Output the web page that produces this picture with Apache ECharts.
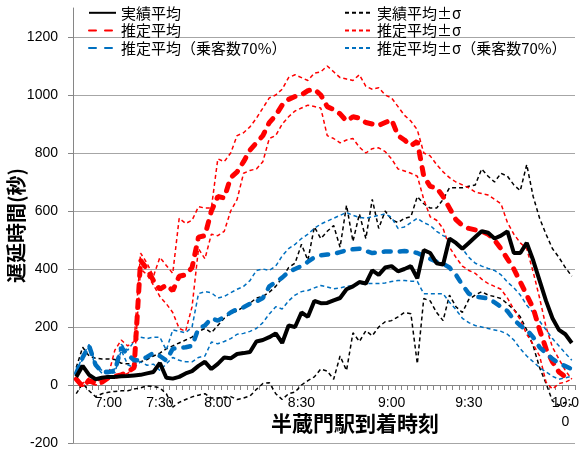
<!DOCTYPE html>
<html>
<head>
<meta charset="utf-8">
<script src="https://cdn.jsdelivr.net/npm/echarts@6/dist/echarts.min.js"></script>
<style>html,body{margin:0;padding:0;background:#fff}#c{width:587px;height:450px}</style>
</head>
<body>
<div id="c"></div>
<script>
const categories = [
  '', '', '', '', '', '7:00', '', '', '', '',
  '', '', '', '7:30', '', '', '', '', '', '',
  '', '', '8:00', '', '', '', '', '', '', '',
  '', '', '', '', '', '8:30', '', '', '', '',
  '', '', '', '', '', '', '', '', '', '9:00',
  '', '', '', '', '', '', '', '', '', '',
  '', '9:30', '', '', '', '', '', '', '', '',
  '', '', '', '', '', '', '10:0\n0', ''
];
const actualMean = [
  28, 66, 35, 20, 25, 28, 28, 30, 31, 33,
  35, 40, 45, 76, 25, 22, 28, 40, 48, 66,
  80, 55, 73, 95, 92, 107, 110, 114, 150, 155,
  165, 178, 145, 205, 200, 250, 235, 290, 282, 283,
  292, 300, 330, 340, 355, 350, 395, 380, 405, 410,
  392, 400, 410, 368, 465, 455, 420, 415, 505, 490,
  470, 490, 510, 530, 525, 505, 515, 530, 455, 455,
  490, 430, 360, 290, 230, 190, 175, 145
];
const actualUpper = [
  60, 130, 100, 92, 90, 90, 88, 75, 73, 75,
  80, 88, 100, 110, 125, 135, 145, 155, 165, 185,
  195, 180, 205, 230, 248, 255, 270, 282, 300, 305,
  320, 340, 370, 405, 420, 485, 430, 545, 505, 530,
  550, 475, 620, 495, 590, 505, 640, 540, 600, 570,
  560, 575, 580, 650, 625, 610, 610, 640, 680, 680,
  680, 685, 690, 745, 720, 700, 730, 720, 690, 670,
  760, 650, 575, 520, 470, 440, 405, 375
];
const actualLower = [
  -30, 5, -20, -40, -30, -25, -22, -20, -20, -14,
  -10, -3, -5, -10, -30, -76, -60, -50, -41, -35,
  -30, -45, -45, -42, -40, -50, -45, -38, -15, 5,
  8, -30, -50, -30, -24, 0, 15, 28, 55, 48,
  20, 100, 50, 180, 150, 187, 170, 200, 218, 222,
  235, 250, 246, 73, 298, 290, 250, 222, 310, 270,
  250, 295, 310, 322, 310, 305, 298, 280, 260, 235,
  190, 135, 60, 5, -55, -70, -60, -70
];
const estMean = [
  20, -5, 15, 5, 10, 25, 30, 35, 45, 60,
  430, 400, 360, 330, 345, 325, 375, 380, 405, 510,
  515, 600, 650, 645, 715, 735, 770, 810, 835, 860,
  905, 930, 965, 985, 995, 1000, 1015, 1020, 1000, 960,
  950, 935, 910, 925, 920, 905, 900, 895, 905, 915,
  860, 845, 825, 840, 720, 685, 680, 650, 610, 570,
  550, 540, 535, 530, 520, 500, 470, 435, 400, 355,
  310, 265, 190, 125, 80, 45, 28, 20
];
const estUpper = [
  25, 5, 25, 10, 20, 35, 120, 155, 135, 150,
  455, 420, 375, 440, 412, 385, 575, 557, 568, 615,
  610, 610, 780, 770, 800, 860, 870, 890, 920, 955,
  990, 1000, 1020, 1060, 1070, 1060, 1050, 1075, 1080, 1100,
  1080, 1060, 1055, 1050, 1070, 1030, 1020, 1025, 1000, 990,
  960, 930, 910, 880, 800, 790, 760, 735, 715, 700,
  690, 680, 665, 660, 655, 640, 625, 560, 520, 490,
  470, 390, 300, 200, 130, 90, 50, 20
];
const estLower = [
  15, -5, 10, 0, 5, 20, 25, 30, 40, 60,
  400, 380, 345, 305, 280, 250, 195, 185, 270, 470,
  435, 520, 515, 530, 600, 640, 730, 740, 745, 770,
  850, 860, 900, 925, 945, 955, 965, 960, 955, 860,
  850, 835, 845, 850, 820, 800, 815, 818, 805, 780,
  745, 738, 730, 720, 640, 580, 568, 540, 475, 440,
  410, 395, 385, 365, 350, 340, 330, 300, 260, 225,
  175, 140, 100, 10, -14, 5, 10, 20
];
const est70Mean = [
  40, 95, 135, 70, 45, 45, 48, 130, 105, 85,
  85, 97, 110, 100, 85, 125, 128, 130, 135, 195,
  205, 230, 222, 235, 250, 262, 268, 280, 288, 300,
  340, 355, 370, 390, 400, 410, 425, 440, 447, 450,
  452, 458, 465, 468, 470, 462, 455, 458, 460, 460,
  460, 462, 460, 455, 445, 435, 425, 418, 405, 380,
  345, 315, 305, 302, 298, 285, 270, 255, 225, 205,
  190, 165, 130, 110, 90, 75, 65, 55
];
const est70Upper = [
  45, 100, 140, 75, 50, 50, 55, 140, 120, 150,
  165, 160, 165, 165, 120, 190, 185, 180, 200, 315,
  322, 318, 300, 305, 318, 330, 340, 360, 395, 400,
  395, 410, 445, 470, 485, 505, 520, 540, 555, 565,
  575, 585, 595, 585, 578, 575, 580, 585, 590, 578,
  540, 545, 560, 575, 560, 550, 530, 515, 505, 490,
  470, 440, 420, 410, 402, 395, 380, 355, 335, 310,
  275, 250, 220, 190, 160, 135, 110, 85
];
const est70Lower = [
  35, 90, 130, 65, 40, 40, 42, 120, 70, 60,
  80, 68, 72, 50, 73, 95, 85, 80, 80, 95,
  100, 148, 142, 150, 160, 175, 178, 185, 195, 215,
  245, 270, 262, 290, 310, 322, 326, 335, 343, 338,
  332, 335, 340, 343, 348, 350, 350, 350, 352, 357,
  360, 360, 358, 357, 315, 315, 315, 315, 285, 260,
  230, 215, 205, 200, 195, 190, 185, 175, 155, 125,
  100, 80, 60, 45, 30, 20, 25, 30
];
const yTicks = { min: -200, max: 1300, step: 200 };

const CJK = "'Noto Sans CJK JP', sans-serif";
const LAT = "'Liberation Sans', 'Noto Sans CJK JP', sans-serif";
const HIDDEN = 'rgba(0,0,0,0)';

function thin(name, data, color) {
  return { name, type: 'line', data, symbol: 'none', z: 2,
    lineStyle: { color, width: 1.5, type: [4, 3] }, itemStyle: { color: HIDDEN, opacity: 0 } };
}
function thick(name, data, color, width) {
  return { name, type: 'line', data, symbol: 'none', z: 3,
    lineStyle: { color, width, type: [7, 9], cap: 'round' }, itemStyle: { color: HIDDEN, opacity: 0 } };
}

const legendBase = { orient: 'vertical', top: 4, padding: 0, itemGap: 0, itemWidth: 27, itemHeight: 22,
  itemStyle: { opacity: 0 },
  textStyle: { fontSize: 15, color: '#000', fontFamily: CJK } };

const GRID_TOP = 8, GRID_BOTTOM = 7, H = 450;
// pixel distance from the bottom edge of the plot up to the value 0 line
const zeroOffset = (H - GRID_TOP - GRID_BOTTOM) * (0 - yTicks.min) / (yTicks.max - yTicks.min);

const chart = echarts.init(document.getElementById('c'), null, { renderer: 'canvas' });
chart.setOption({
  animation: false,
  backgroundColor: '#fff',
  grid: { left: 73, right: 12, top: GRID_TOP, bottom: GRID_BOTTOM, containLabel: false, outerBoundsMode: 'none' },
  legend: [
    Object.assign({ data: ['実績平均', '推定平均', '推定平均（乗客数70%）'], left: 88 }, legendBase),
    Object.assign({ data: ['実績平均±σ', '推定平均±σ', '推定平均±σ（乗客数70%）'], left: 344 }, legendBase)
  ],
  xAxis: {
    type: 'category', data: categories, boundaryGap: true, position: 'bottom',
    offset: -zeroOffset,
    axisLine: { onZero: false, lineStyle: { color: '#868686', width: 1 } },
    axisTick: { show: true, interval: 0, length: 5, lineStyle: { color: '#868686' } },
    axisLabel: { interval: 0, margin: 9, fontSize: 14, lineHeight: 19, color: '#000', fontFamily: LAT },
    splitLine: { show: false },
    name: '半蔵門駅到着時刻', nameLocation: 'middle', nameGap: 28, nameMoveOverlap: false,
    nameTextStyle: { fontSize: 21, fontWeight: 'bold', color: '#000', fontFamily: CJK, padding: [0, 0, 0, 62] }
  },
  yAxis: {
    type: 'value', min: yTicks.min, max: yTicks.max, interval: yTicks.step,
    axisLine: { show: true, onZero: false, lineStyle: { color: '#868686' } },
    axisTick: { show: true, length: 5, lineStyle: { color: '#868686' } },
    axisLabel: { showMaxLabel: false, fontSize: 14, margin: 15, color: '#000', fontFamily: LAT,
      formatter: v => String(v) },
    splitLine: { show: true, showMaxLine: false, lineStyle: { color: '#a6a6a6', width: 1 } },
    name: '遅延時間(秒)', nameLocation: 'middle', nameGap: 47, nameRotate: 90, nameMoveOverlap: false,
    nameTextStyle: { fontSize: 20, fontWeight: 'bold', color: '#000', fontFamily: CJK }
  },
  series: [
    thin('実績平均±σ', actualUpper, '#000'),
    thin('実績平均±σ', actualLower, '#000'),
    thin('推定平均±σ', estUpper, '#ff0000'),
    thin('推定平均±σ', estLower, '#ff0000'),
    thin('推定平均±σ（乗客数70%）', est70Upper, '#0070c0'),
    thin('推定平均±σ（乗客数70%）', est70Lower, '#0070c0'),
    thick('推定平均', estMean, '#ff0000', 5),
    thick('推定平均（乗客数70%）', est70Mean, '#0070c0', 4.5),
    { name: '実績平均', type: 'line', data: actualMean, symbol: 'none', z: 4,
      lineStyle: { color: '#000', width: 4 }, itemStyle: { color: HIDDEN, opacity: 0 } }
  ]
});
</script>
</body>
</html>
